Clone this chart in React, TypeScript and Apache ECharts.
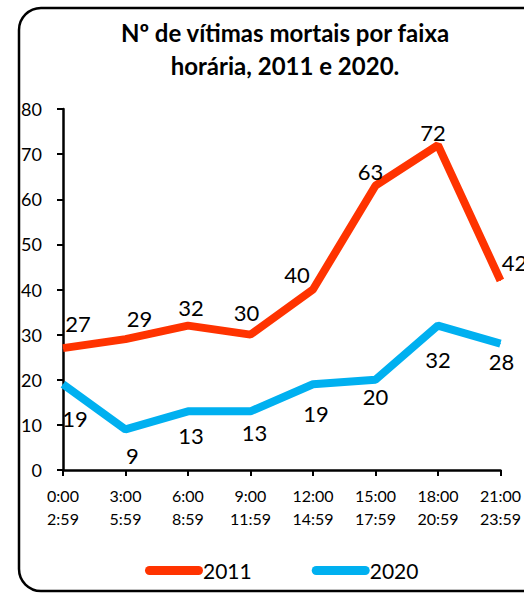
import React, { useEffect, useRef } from "react";
import * as echarts from "echarts";

const categories = [
  "0:00\n2:59",
  "3:00\n5:59",
  "6:00\n8:59",
  "9:00\n11:59",
  "12:00\n14:59",
  "15:00\n17:59",
  "18:00\n20:59",
  "21:00\n23:59",
];
const values2011 = [27, 29, 32, 30, 40, 63, 72, 42];
const values2020 = [19, 9, 13, 13, 19, 20, 32, 28];
const seriesNames = ["2011", "2020"];
const titleText = "Nº de vítimas mortais por faixa\nhorária, 2011 e 2020.";

// label placement offsets (style only)
const offsets2011 = [
  [15, -25], [14, -21], [3, -18], [-4, -22], [-16, -15], [-5, -14], [-5, -13], [14, -18],
];
const offsets2020 = [
  [12, 34], [7, 26], [3, 24], [4, 21], [3, 29], [0, 17], [0, 34], [1, 18],
];

const FONT = "Lato";

export default function App() {
  const ref = useRef<HTMLDivElement>(null);
  useEffect(() => {
    if (!ref.current) return;
    const chart = echarts.init(ref.current, undefined, { renderer: "svg" });
    const mk = (vals: number[], offs: number[][]) =>
      vals.map((v, i) => ({ value: v, label: { offset: offs[i] } }));
    const labelCommon = {
      show: true,
      position: "inside" as const,
      color: "#000",
      fontSize: 22,
      fontFamily: FONT,
    };
    chart.setOption({
      animation: false,
      backgroundColor: "#fff",
      title: {
        text: titleText,
        left: 280,
        top: 11,
        textAlign: "center",
        textStyle: {
          fontFamily: FONT,
          fontWeight: "bold",
          fontSize: 24,
          lineHeight: 33,
          color: "#000",
        },
      },
      graphic: [
        {
          type: "rect",
          shape: { x: 19, y: 8, width: 560, height: 583, r: 22 },
          style: { fill: "none", stroke: "#000", lineWidth: 2.5 },
          silent: true,
          z: 100,
        },
      ],
      legend: {
        left: 140,
        top: 555,
        itemGap: 60,
        itemWidth: 58,
        itemHeight: 9,
        icon: "path://M4.5,0 H53.5 A4.5,4.5 0 0 1 53.5,9 H4.5 A4.5,4.5 0 0 1 4.5,0 Z",
        textStyle: { fontFamily: FONT, fontSize: 21, color: "#000", padding: [0, 0, 0, -5] },
        data: seriesNames,
      },
      grid: { left: 63, right: 21, top: 109, bottom: 124 },
      xAxis: {
        type: "category",
        data: categories,
        boundaryGap: false,
        axisLine: { lineStyle: { color: "#000", width: 2.5 } },
        axisTick: { show: true, length: 6, lineStyle: { color: "#000", width: 2 } },
        axisLabel: {
          color: "#000",
          fontFamily: FONT,
          fontSize: 16,
          lineHeight: 23,
          margin: 14,
          interval: 0,
        },
      },
      yAxis: {
        type: "value",
        min: 0,
        max: 80,
        interval: 10,
        splitLine: { show: false },
        axisLine: { show: true, lineStyle: { color: "#000", width: 2.5 } },
        axisTick: { show: true, length: 6, lineStyle: { color: "#000", width: 2 } },
        axisLabel: { color: "#000", fontFamily: FONT, fontSize: 18, margin: 21 },
      },
      series: [
        {
          name: seriesNames[0],
          type: "line",
          data: mk(values2011, offsets2011),
          color: "#FF3300",
          symbol: "circle",
          symbolSize: 1,
          showSymbol: true,
          lineStyle: { width: 8, color: "#FF3300" },
          label: labelCommon,
        },
        {
          name: seriesNames[1],
          type: "line",
          data: mk(values2020, offsets2020),
          color: "#00B0F0",
          symbol: "circle",
          symbolSize: 1,
          showSymbol: true,
          lineStyle: { width: 8, color: "#00B0F0" },
          label: labelCommon,
        },
      ],
    });
    return () => chart.dispose();
  }, []);
  return (
    <div
      ref={ref}
      style={{ position: "fixed", left: 0, top: 0, width: 524, height: 594 }}
    />
  );
}
